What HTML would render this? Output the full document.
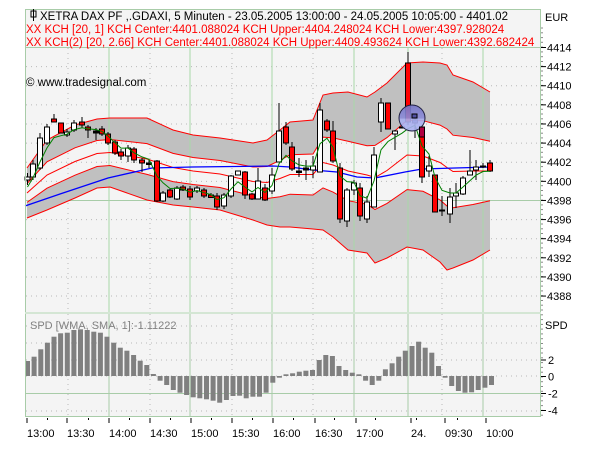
<!DOCTYPE html>
<html><head><meta charset="utf-8"><style>
html,body{margin:0;padding:0;background:#fff;}
svg{display:block;font-family:"Liberation Sans",sans-serif;}
</style></head><body>
<svg id="s" width="600" height="450" xmlns="http://www.w3.org/2000/svg"></svg>
<script>
var o=[];
function Y(p){return 47.5+(4414-p)*9.56;}
o.push('<rect x="25" y="9" width="516" height="304" fill="#f4f4f4"/>');
o.push('<rect x="25" y="314" width="516" height="103" fill="#f4f4f4"/>');
for(var p=4388;p<=4412;p+=2){ if(p==4398)continue; o.push('<line x1="26" x2="540" y1="'+Y(p)+'" y2="'+Y(p)+'" stroke="#b8b8b8" stroke-dasharray="1,4"/>');}
o.push('<line x1="26" x2="540" y1="'+(Y(4398))+'" y2="'+Y(4398)+'" stroke="#a8cca8"/>');
o.push('<line x1="26" x2="540" y1="47.5" y2="47.5" stroke="#a8cca8"/>');
[326,343,360,376,411].forEach(function(y){o.push('<line x1="26" x2="540" y1="'+y+'" y2="'+y+'" stroke="#b8b8b8" stroke-dasharray="1,4"/>');});
o.push('<line x1="26" x2="540" y1="393.5" y2="393.5" stroke="#a8cca8"/>');
var solid=[109,190,272,354,408,483],dot=[68,150,232,313,442];
dot.forEach(function(x){o.push('<line x1="'+x+'" x2="'+x+'" y1="48" y2="312" stroke="#b8b8b8" stroke-dasharray="1,4"/><line x1="'+x+'" x2="'+x+'" y1="314" y2="416" stroke="#b8b8b8" stroke-dasharray="1,4"/>');});
var B=[[27,168,218],[47,140,210],[75,125,198],[97,119,188],[110,118,187],[147,118,200],[173,130,205],[193,135,207],[220,138,210],[253,143,220],[267,140,225],[280,130,227],[290,122,227],[313,120,229],[323,95,230],[333,93,237],[348,92,250],[367,97,253],[375,92,263],[387,83,258],[407,63,247],[423,62,250],[440,63,262],[447,65,270],[453,75,268],[473,82,260],[490,92,250]];
var U=[],IU=[],C=[],IL=[],L=[];
B.forEach(function(b){var c=(b[1]+b[2])/2,w=(b[2]-b[1])/5.32;U.push(b[0]+','+b[1]);IU.push(b[0]+','+(c-w).toFixed(1));C.push(b[0]+','+c.toFixed(1));IL.push(b[0]+','+(c+w).toFixed(1));L.push(b[0]+','+b[2]);});
function rev(a){return a.slice().reverse();}
o.push('<polygon points="'+U.concat(rev(IU)).join(' ')+'" fill="#c0c0c0"/>');
o.push('<polygon points="'+IL.concat(rev(L)).join(' ')+'" fill="#c0c0c0"/>');
solid.forEach(function(x){o.push('<line x1="'+x+'" x2="'+x+'" y1="48" y2="312" stroke="#a8d8a8"/><line x1="'+x+'" x2="'+x+'" y1="314" y2="416" stroke="#a8cca8"/>');});
[U,IU,C,IL,L].forEach(function(a){o.push('<polyline points="'+a.join(' ')+'" fill="none" stroke="#ff0000" stroke-width="1"/>');});
o.push('<polyline points="25,206 60,194 108,178 152,168 192,167 273,166 290,167 313,170 337,172 357,177 375,178 405,172 422,169 455,168 490,167" fill="none" stroke="#0000ff" stroke-width="1.3"/>');
var K=[[27.5,173,185,177,180,'w'],[33,160,180,164,177,'w'],[40,133,170,138,168,'w'],[47,124,145,127,143,'w'],[54,114,122,119,122,'r'],[61,123,133,123,133,'r'],[67,129,137,132,135,'w'],[74,120,132,123,130,'w'],[82,117,128,122,125,'r'],[88,125,138,127,130,'r'],[96,128,140,131,133,'k'],[102,126,136,129,134,'r'],[108,132,145,134,143,'r'],[115,140,155,142,153,'r'],[121,149,160,152,156,'r'],[128,145,162,148,156,'w'],[134,147,163,149,160,'r'],[142,158,172,160,163,'r'],[149,160,168,163,164.5,'k'],[157,160,202,161,201,'r'],[163,191,202,193,201,'w'],[170,189,198,190,197,'r'],[177,186,200,188,199,'w'],[183,185,191,187,190,'r'],[190,186,200,189,197,'r'],[197,186,193,188,191,'w'],[204,188,198,190,196,'r'],[211,193,198,195,197.5,'r'],[217,193,210,196,207,'r'],[224,193,209,195,206,'w'],[231,175,198,176,196,'w'],[238,171,175,171,175,'w'],[245,171,199,172,195,'r'],[252,193,200,194,199,'r'],[258,168,199,181,199,'w'],[265,184,201,188,200,'r'],[272,168,194,175,191,'w'],[279,103,162,131,162,'w'],[286,122,145,127,143,'r'],[292,142,171,147,169,'r'],[299,158,177,171,172.5,'k'],[306,160,180,168,170,'k'],[313,156,178,166,170,'w'],[320,103,172,110,172,'w'],[327,119,132,121,130,'r'],[333,121,163,131,161,'r'],[340,163,223,168,219,'r'],[347,188,227,190,221,'w'],[354,180,195,183,190,'w'],[360,183,221,188,216,'r'],[367,196,223,202,219,'w'],[374,147,207,155,207,'w'],[381,98,132,103,122,'w'],[388,103,129,103,129,'r'],[395,130,150,131,134,'w'],[402,127,128,127,128,'k'],[408,52,125,63,122,'r'],[415,118,138,120,123,'b'],[422,125,183,127,177,'r'],[429,156,177,166,171,'w'],[435,175,212,175,212,'r'],[442,196,216,210,211,'k'],[450,188,223,197,214,'w'],[456,183,208,193,196,'w'],[463,176,195,178,194,'w'],[470,150,175,171,175,'w'],[476,160,180,167,170,'w'],[483,163,168,166,167,'k'],[490,160,172,163,171,'r']];
var closes=[];
K.forEach(function(k){var x=k[0],t=Math.min(k[3],k[4]),b=Math.max(k[3],k[4]);var f=k[5]=='r'?'#ff0000':(k[5]=='w'?'#ffffff':(k[5]=='b'?'#5050a0':'#000'));
o.push('<line x1="'+x+'" x2="'+x+'" y1="'+k[1]+'" y2="'+k[2]+'" stroke="#000"/>');
o.push('<rect x="'+(x-2.5)+'" y="'+t+'" width="5" height="'+Math.max(b-t,1)+'" fill="'+f+'" stroke="#000" stroke-width="1"/>');
closes.push([x,(k[5]=='r')?b:t]);});
var e=187,g=[];closes.forEach(function(c,i){e=i==0?187:e+(c[1]-e)*0.4;g.push(c[0]+','+e.toFixed(1));});
o.push('<polyline points="'+g.join(' ')+'" fill="none" stroke="#008000" stroke-width="1"/>');
o.push('<defs><linearGradient id="cg" x1="0" y1="0" x2="0" y2="1"><stop offset="0" stop-color="#7474c8"/><stop offset="0.5" stop-color="#8c8cd8"/><stop offset="0.55" stop-color="#aab0f0"/><stop offset="1" stop-color="#aab0f0"/></linearGradient></defs>');
o.push('<circle cx="412" cy="118" r="13" fill="url(#cg)" fill-opacity="0.9" stroke="#202040" stroke-width="1"/>');
o.push('<rect x="412" y="114" width="5" height="4" fill="#5050a0" stroke="#000"/>');
o.push('<rect x="419.5" y="127" width="5" height="10" fill="#b00040" stroke="#000"/>');
var H=[153,140,118,98,80,70,68,60,58,60,65,68,80,98,113,122,135,152,165,192,212,225,240,248,255,262,265,268,272,278,270,258,257,265,260,260,248,218,203,193,190,185,182,180,150,135,138,168,180,188,193,212,225,212,178,160,140,122,108,95,113,128,168,203,228,243,248,247,240,233,225];
var sp=(489-25)/(H.length-1);
H.forEach(function(v,i){var x=25+i*sp,y=310+v/3,z=376;var t=Math.min(y,z),h=Math.abs(y-z);if(h<1)h=1;o.push('<rect x="'+x.toFixed(1)+'" y="'+t.toFixed(1)+'" width="5" height="'+h.toFixed(1)+'" fill="#808080"/>');});
o.push('<rect x="25.5" y="9.5" width="515" height="303" fill="none" stroke="#a8cca8"/>');
o.push('<rect x="25.5" y="313.5" width="515" height="103" fill="none" stroke="#a8cca8"/>');
o.push('<line x1="25" x2="541" y1="313" y2="313" stroke="#fff"/>');
for(var y=28;y<=416;y+=4.78){o.push('<line x1="541" x2="543" y1="'+y.toFixed(1)+'" y2="'+y.toFixed(1)+'" stroke="#888"/>');}
for(var p=4388;p<=4414;p+=2){var y=Y(p);o.push('<line x1="541" x2="546" y1="'+y+'" y2="'+y+'" stroke="#000"/><text x="547" y="'+(y+4)+'" font-size="11">'+p+'</text>');}
o.push('<text x="545" y="21" font-size="11">EUR</text><text x="545" y="329" font-size="11">SPD</text>');
[[2,360],[0,376.5],[-2,393.5],[-4,410.5]].forEach(function(a){o.push('<line x1="541" x2="546" y1="'+a[1]+'" y2="'+a[1]+'" stroke="#000"/><text x="548" y="'+(a[1]+4)+'" font-size="11">'+a[0]+'</text>');});
var T=[[27,'13:00'],[67,'13:30'],[109,'14:00'],[150,'14:30'],[191,'15:00'],[232,'15:30'],[273,'16:00'],[315,'16:30'],[356,'17:00'],[411,'24.'],[445,'09:30'],[486,'10:00']];
T.forEach(function(t){o.push('<line x1="'+t[0]+'" x2="'+t[0]+'" y1="418" y2="423" stroke="#000"/><text x="'+(t[0]-0)+'" y="437" font-size="11">'+t[1]+'</text>');});
for(var x=27+20.5;x<490;x+=41){o.push('<line x1="'+x+'" x2="'+x+'" y1="418" y2="420" stroke="#000"/>');}
o.push('<rect x="31" y="11" width="5" height="6" fill="none" stroke="#000"/><line x1="33.5" x2="33.5" y1="9" y2="21" stroke="#000"/>');
o.push('<text x="40" y="20" font-size="11.5">XETRA DAX PF ,.GDAXI, 5 Minuten - 23.05.2005 13:00:00 - 24.05.2005 10:05:00 - 4401.02</text>');
o.push('<text x="26" y="33" font-size="11.5" fill="#ff0000">XX KCH [20, 1] KCH Center:4401.088024 KCH Upper:4404.248024 KCH Lower:4397.928024</text>');
o.push('<text x="26" y="46" font-size="11.5" fill="#ff0000">XX KCH(2) [20, 2.66] KCH Center:4401.088024 KCH Upper:4409.493624 KCH Lower:4392.682424</text>');
o.push('<text x="26" y="86" font-size="11.5">© www.tradesignal.com</text>');
o.push('<text x="30" y="329" font-size="11" fill="#808080">SPD [WMA, SMA, 1]:-1.11222</text>');
document.getElementById('s').innerHTML=o.join('');
</script>
</body></html>
